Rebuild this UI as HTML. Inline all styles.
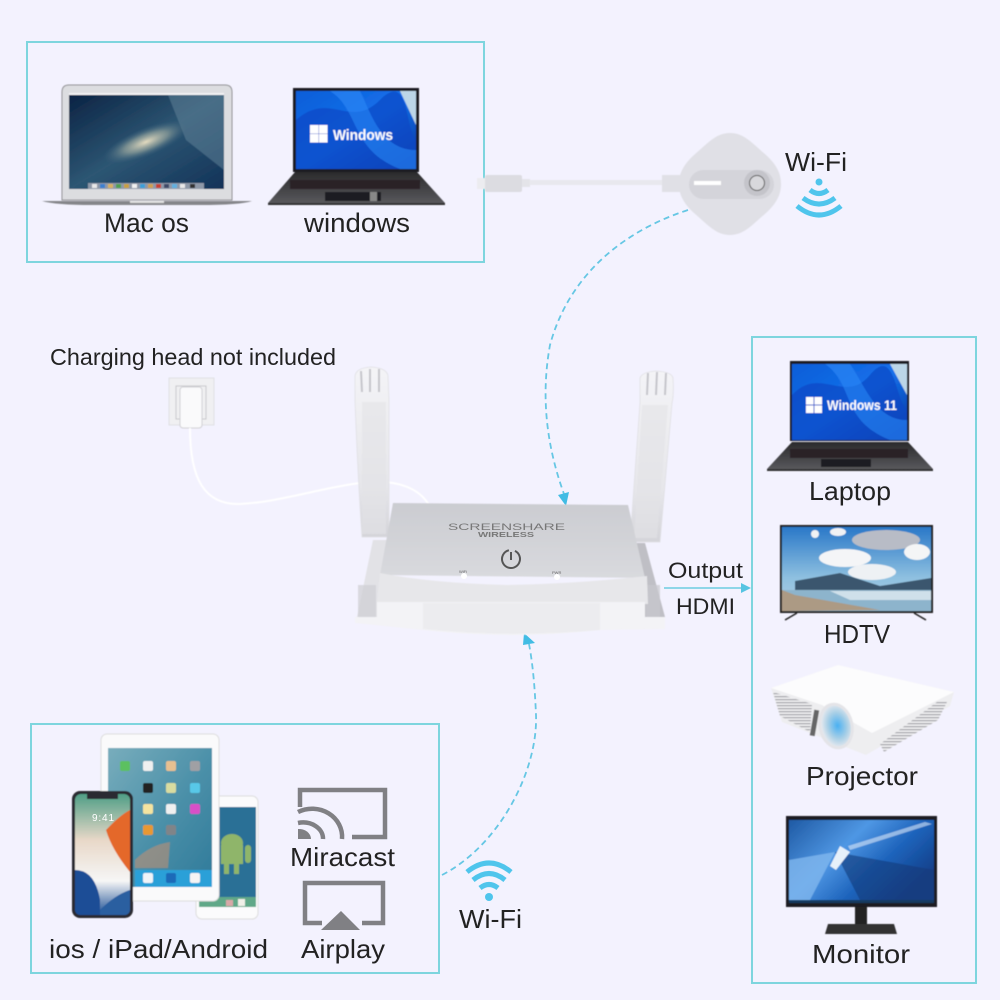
<!DOCTYPE html>
<html><head><meta charset="utf-8"><style>html,body{margin:0;padding:0;background:#f3f2fe}svg{display:block}text{font-family:"Liberation Sans",sans-serif;fill:#222}</style></head>
<body>
<svg width="1000" height="1000" viewBox="0 0 1000 1000" xmlns="http://www.w3.org/2000/svg">
<defs>
<linearGradient id="mac" x1="0" y1="0" x2="1" y2="1"><stop offset="0" stop-color="#0b2344"/><stop offset=".5" stop-color="#2d5673"/><stop offset="1" stop-color="#123258"/></linearGradient>
<radialGradient id="gal" cx=".5" cy=".5" r=".5"><stop offset="0" stop-color="#e5dcc0"/><stop offset=".5" stop-color="#8f9f9a" stop-opacity=".75"/><stop offset="1" stop-color="#3d6480" stop-opacity="0"/></radialGradient>
<linearGradient id="win" x1="0" y1="0" x2="1" y2="1"><stop offset="0" stop-color="#0d5ed8"/><stop offset=".5" stop-color="#1470ea"/><stop offset="1" stop-color="#07329a"/></linearGradient>
<linearGradient id="base" x1="0" y1="0" x2="0" y2="1"><stop offset="0" stop-color="#2a2a2c"/><stop offset="1" stop-color="#58585c"/></linearGradient>
<linearGradient id="sky" x1="0" y1="0" x2="0" y2="1"><stop offset="0" stop-color="#2a78c8"/><stop offset=".6" stop-color="#8ec0e0"/><stop offset="1" stop-color="#b4d0e4"/></linearGradient>
<linearGradient id="mon" x1="0" y1="0" x2="1" y2=".6"><stop offset="0" stop-color="#1f5aa4"/><stop offset=".42" stop-color="#4f97e4"/><stop offset=".7" stop-color="#1e64bc"/><stop offset="1" stop-color="#12408a"/></linearGradient>
<linearGradient id="top" x1="0" y1="0" x2="0" y2="1"><stop offset="0" stop-color="#cbccd1"/><stop offset="1" stop-color="#d9dade"/></linearGradient>
<linearGradient id="ant" x1="0" y1="0" x2="0" y2="1"><stop offset="0" stop-color="#f4f4f7"/><stop offset=".7" stop-color="#e6e6ea"/><stop offset="1" stop-color="#d4d4d9"/></linearGradient>
<linearGradient id="ipad" x1="0" y1="0" x2="1" y2="1"><stop offset="0" stop-color="#78adbc"/><stop offset=".55" stop-color="#4a8fa8"/><stop offset="1" stop-color="#2f7a9a"/></linearGradient>
<linearGradient id="iph" x1="0" y1="0" x2="0" y2="1"><stop offset="0" stop-color="#4f9e86"/><stop offset=".38" stop-color="#e8d8c8"/><stop offset=".72" stop-color="#f6f6f6"/><stop offset="1" stop-color="#1c4f94"/></linearGradient>
<radialGradient id="lens" cx=".55" cy=".5" r=".5"><stop offset="0" stop-color="#4ab0f2"/><stop offset=".6" stop-color="#a8cfe6"/><stop offset="1" stop-color="#e4e8ee"/></radialGradient>
<pattern id="vent" width="4" height="3" patternUnits="userSpaceOnUse"><rect width="4" height="3" fill="#f0f0f2"/><rect width="4" height="1.300" fill="#a6a6ab"/></pattern>
<filter id="b"><feGaussianBlur stdDeviation=".4"/></filter>
</defs>
<rect width="1000" height="1000" fill="#f3f2fe"/>

<g fill="none" stroke="#7dd5de" stroke-width="2">
<rect x="27" y="42" width="457" height="220"/>
<rect x="752" y="337" width="224" height="646"/>
<rect x="31" y="724" width="408" height="249"/>
</g>

<!-- Mac laptop -->
<g filter="url(#b)">
<path d="M62 92q0-7 7-7h156q7 0 7 7v108H62z" fill="#dcdde0" stroke="#8f8f92"/>
<rect x="69" y="95" width="155" height="94" fill="url(#mac)"/>
<polygon points="168,95 224,95 224,170 186,140" fill="#5f8298" opacity=".55"/>
<ellipse cx="146" cy="142" rx="46" ry="14" transform="rotate(-22 146 142)" fill="url(#gal)"/>
<g>
<rect x="88" y="183" width="116" height="6" fill="#8e98a8"/>
<rect x="92" y="184" width="5" height="4" fill="#e8e8e8"/><rect x="100" y="184" width="5" height="4" fill="#3a80d0"/><rect x="108" y="184" width="5" height="4" fill="#d8b060"/><rect x="116" y="184" width="5" height="4" fill="#50a050"/><rect x="124" y="184" width="5" height="4" fill="#c8a040"/><rect x="132" y="184" width="5" height="4" fill="#f0f0f0"/><rect x="140" y="184" width="5" height="4" fill="#3aa0d8"/><rect x="148" y="184" width="5" height="4" fill="#d0a050"/><rect x="156" y="184" width="5" height="4" fill="#c84030"/><rect x="164" y="184" width="5" height="4" fill="#404868"/><rect x="172" y="184" width="5" height="4" fill="#60b0e0"/><rect x="180" y="184" width="5" height="4" fill="#e8e8e8"/><rect x="190" y="184" width="5" height="4" fill="#303030"/>
</g>
<rect x="69" y="93" width="155" height="2" fill="#f2f2f4"/>
<path d="M42 201H252Q240 205 200 205H92Q56 205 42 201z" fill="#85868a"/>
<rect x="130" y="201" width="34" height="2" fill="#ddd"/>
</g>

<!-- Windows laptop -->
<g filter="url(#b)">
<rect x="293" y="88" width="126" height="84" fill="#1c1c20"/>
<rect x="296" y="91" width="120" height="78" fill="url(#win)"/>
<path d="M296 120C330 90 350 130 380 100S405 130 416 140V169H296z" fill="#0a47c4" opacity=".7"/>
<path d="M330 91C360 110 350 150 400 169H416V150C380 150 370 110 360 91z" fill="#2f8dfa" opacity=".55"/>
<polygon points="400,91 416,91 416,125" fill="#bcd6e8"/>
<g fill="#fff"><rect x="310" y="125" width="8.500" height="8.500"/><rect x="319" y="125" width="8.500" height="8.500"/><rect x="310" y="134" width="8.500" height="8.500"/><rect x="319" y="134" width="8.500" height="8.500"/></g>
<text x="333" y="140" font-size="15" font-weight="bold" style="fill:#fff" textLength="60" lengthAdjust="spacingAndGlyphs">Windows</text>
<polygon points="295,172 417,172 445,203 268,203" fill="url(#base)"/>
<rect x="268" y="203" width="177" height="2" fill="#333"/>
<rect x="290" y="180" width="130" height="9" fill="#2b2426"/>
<rect x="325" y="192" width="56" height="9" fill="#1f1f22"/>
<rect x="370" y="192" width="7" height="9" fill="#888"/>
</g>

<text x="104" y="232" font-size="27" textLength="85" lengthAdjust="spacingAndGlyphs">Mac os</text>
<text x="304" y="232" font-size="27" textLength="106" lengthAdjust="spacingAndGlyphs">windows</text>

<!-- dongle -->
<g filter="url(#b)">
<rect x="530" y="180" width="132" height="5" fill="#e8e8ee"/>
<rect x="477" y="178" width="8" height="11" fill="#ececf0"/>
<rect x="485" y="175" width="37" height="17" rx="2" fill="#dcdce1"/>
<rect x="522" y="179" width="8" height="8" fill="#e4e4e9"/>
<rect x="662" y="175" width="20" height="17" fill="#e0e0e6"/>
<path d="M730 133C744 133 752 143 766 155C778 166 781 175 781 184C781 193 778 202 766 213C752 225 744 235 730 235C716 235 708 225 694 213C682 202 679 193 679 184C679 175 682 166 694 155C708 143 716 133 730 133z" fill="#e0e0e6"/>
<rect x="689" y="170" width="85" height="29" rx="14.500" fill="#d4d4da"/>
<rect x="694" y="181" width="27" height="4" fill="#fff"/>
<circle cx="757" cy="183" r="13" fill="#c4c4ca"/><circle cx="757" cy="183" r="7.500" fill="#d8d8dc" stroke="#555" stroke-width="1"/>
</g>
<text x="785" y="171" font-size="26" textLength="62" lengthAdjust="spacingAndGlyphs">Wi-Fi</text>
<g fill="none" stroke="#4fc5ec" stroke-width="5">
<circle cx="819" cy="182" r="3.500" fill="#4fc5ec" stroke="none"/>
<path d="M810 190Q819 197 828 190"/>
<path d="M803 198Q819 210 835 198"/>
<path d="M797 206Q819 224 841 206"/>
</g>

<!-- dashed connectors -->
<g fill="none" stroke="#66c7e4" stroke-width="1.800" stroke-dasharray="6 4">
<path d="M688 210C620 232 568 278 550 345C540 400 548 450 564 494"/>
<path d="M442 875C500 845 538 770 536 715C535 690 533 665 529 644"/>
</g>
<polygon points="566,506 558,495 569,492" fill="#41bce4"/>
<polygon points="524,633 523,645 535,643" fill="#41bce4"/>

<!-- charger -->
<text x="50" y="365" font-size="23" textLength="286" lengthAdjust="spacingAndGlyphs">Charging head not included</text>
<g filter="url(#b)">
<rect x="169" y="378" width="45" height="47" fill="#f0f0f2" stroke="#e0e0e4"/>
<rect x="176" y="386" width="30" height="33" fill="none" stroke="#c8c8cc"/>
<rect x="180" y="387" width="22" height="41" rx="3" fill="#fafafb" stroke="#d0d0d4"/>
<path d="M190 428C190 480 205 505 240 504C280 502 320 488 360 483C400 478 420 490 429 505" fill="none" stroke="#fff" stroke-width="2"/>
</g>

<!-- router -->
<g filter="url(#b)">
<path d="M355 376Q356 368 371 367Q387 368 388 376L389 400V537H362Q358 480 355 400z" fill="url(#ant)" stroke="#e0e0e4" stroke-width=".8"/>
<path d="M640 378Q642 372 656 371Q672 372 673 378Q674 395 672 403L660 542H630L640 403z" fill="url(#ant)" stroke="#e0e0e4" stroke-width=".8"/>
<rect x="362" y="402" width="24" height="132" fill="#e2e2e6" opacity=".6"/>
<polygon points="642,405 668,405 657,538 634,538" fill="#e2e2e6" opacity=".6"/>
<g stroke="#c5c5cb" stroke-width="2">
<line x1="361" y1="371" x2="362" y2="392"/><line x1="370" y1="369" x2="370" y2="392"/><line x1="379" y1="369" x2="379" y2="392"/>
<line x1="648" y1="373" x2="647" y2="395"/><line x1="657" y1="372" x2="656" y2="395"/><line x1="666" y1="373" x2="665" y2="395"/>
</g>
<polygon points="373,540 393,540 378,617 357,617" fill="#e2e2e6"/>
<polygon points="630,543 645,543 665,617 645,617" fill="#bfbfc5"/>
<rect x="358" y="585" width="18" height="32" fill="#cfcfd3" opacity=".7"/>
<rect x="646" y="585" width="14" height="32" fill="#c8c8cd" opacity=".7"/>
<polygon points="393,503 628,505 645,578 380,575" fill="url(#top)"/>
<path d="M380 573Q430 583 507 585Q573 584 647 576L648 604H377z" fill="#e7e7ea"/>
<path d="M355 617H377V602H645V617H665V629L600 630Q510 640 423 630L355 623z" fill="#f3f3f6"/>
<path d="M423 603H600V630Q510 638 423 629z" fill="#ececef"/>
</g>
<text x="448" y="530" font-size="9" style="fill:#777" textLength="117" lengthAdjust="spacingAndGlyphs">SCREENSHARE</text>
<text x="478" y="537" font-size="7" font-weight="bold" style="fill:#777" textLength="56" lengthAdjust="spacingAndGlyphs">WIRELESS</text>
<circle cx="511" cy="559" r="9" fill="none" stroke="#555" stroke-width="2" stroke-dasharray="50 8" transform="rotate(-64 511 559)"/>
<line x1="511" y1="552" x2="511" y2="560" stroke="#555" stroke-width="2"/>
<circle cx="464" cy="576" r="3" fill="#fff"/><circle cx="557" cy="577" r="3" fill="#fff"/>
<text x="459" y="573" font-size="4" style="fill:#666">WiFi</text><text x="552" y="574" font-size="4" style="fill:#666">PWR</text>

<!-- output -->
<text x="668" y="578" font-size="22" textLength="75" lengthAdjust="spacingAndGlyphs">Output</text>
<text x="676" y="614" font-size="22" textLength="59" lengthAdjust="spacingAndGlyphs">HDMI</text>
<line x1="664" y1="588" x2="742" y2="588" stroke="#6ccde0" stroke-width="1.500"/>
<polygon points="751,588 741,583 741,593" fill="#56c4e2"/>

<!-- right laptop -->
<g filter="url(#b)">
<rect x="790" y="361" width="119" height="80" fill="#1c1c20"/>
<rect x="792" y="364" width="115" height="76" fill="url(#win)"/>
<path d="M792 395C820 365 845 405 870 375S895 400 907 410V440H792z" fill="#0a47c4" opacity=".7"/>
<path d="M825 364C855 385 840 420 890 440H907V420C875 420 865 385 850 364z" fill="#2f8dfa" opacity=".55"/>
<polygon points="890,364 907,364 907,395" fill="#bcd6e8"/>
<g fill="#fff"><rect x="806" y="397" width="7.500" height="7.500"/><rect x="814.500" y="397" width="7.500" height="7.500"/><rect x="806" y="405.500" width="7.500" height="7.500"/><rect x="814.500" y="405.500" width="7.500" height="7.500"/></g>
<text x="827" y="410" font-size="14" font-weight="bold" style="fill:#fff" textLength="70" lengthAdjust="spacingAndGlyphs">Windows 11</text>
<polygon points="792,442 908,442 933,469 767,469" fill="url(#base)"/>
<rect x="767" y="469" width="166" height="2" fill="#333"/>
<rect x="790" y="449" width="118" height="9" fill="#2b2426"/>
<rect x="821" y="459" width="50" height="8" fill="#1f1f22"/>
</g>
<text x="809" y="500" font-size="26" textLength="82" lengthAdjust="spacingAndGlyphs">Laptop</text>

<!-- HDTV -->
<g filter="url(#b)">
<rect x="780" y="525" width="153" height="88" fill="#222"/>
<rect x="782" y="527" width="149" height="84" fill="url(#sky)"/>
<ellipse cx="886" cy="540" rx="34" ry="10" fill="#b8bcc6"/>
<ellipse cx="845" cy="558" rx="26" ry="9" fill="#f4f5f7"/>
<ellipse cx="872" cy="572" rx="24" ry="8" fill="#eef1f4"/>
<ellipse cx="917" cy="552" rx="13" ry="8" fill="#f4f5f6"/>
<ellipse cx="838" cy="532" rx="8" ry="4" fill="#f0f2f4"/>
<ellipse cx="815" cy="534" rx="4" ry="4" fill="#f0f2f4"/>
<polygon points="795,581 840,573 880,586 931,578 931,592 795,592" fill="#3b566e"/>
<rect x="782" y="590" width="149" height="21" fill="#8db4cc"/>
<path d="M830 591H931V600H850z" fill="#cfe0ea"/>
<polygon points="782,590 795,595 880,610 782,611" fill="#ac9a84"/>
<path d="M785 620L797 613M926 620L914 613" stroke="#222" stroke-width="1.500"/>
</g>
<text x="824" y="643" font-size="26" textLength="66" lengthAdjust="spacingAndGlyphs">HDTV</text>

<!-- Projector -->
<g filter="url(#b)">
<polygon points="771,688 838,665 954,692 950,706 866,755 782,722" fill="#eeeef0"/>
<polygon points="771,688 838,665 954,692 872,733 822,705" fill="#fcfcfd"/>
<polygon points="773,692 812,704 810,732 780,716" fill="url(#vent)"/>
<polygon points="880,744 937,702 947,702 938,720 884,752" fill="url(#vent)"/>
<ellipse cx="836" cy="726" rx="16" ry="22" transform="rotate(-12 836 726)" fill="url(#lens)" stroke="#e4e4e8" stroke-width="3"/>
<rect x="812" y="710" width="5" height="26" fill="#666" transform="rotate(10 815 723)"/>
</g>
<text x="806" y="785" font-size="26" textLength="112" lengthAdjust="spacingAndGlyphs">Projector</text>

<!-- Monitor -->
<g filter="url(#b)">
<rect x="786" y="816" width="151" height="91" fill="#1f1f22"/>
<rect x="789" y="820" width="145" height="83" fill="url(#mon)"/>
<polygon points="789,860 835,852 810,900 789,900" fill="#7fb6ee" opacity=".8"/>
<polygon points="835,852 934,870 934,900 860,900" fill="#123a7a" opacity=".6"/>
<polygon points="830,866 840,846 850,852 836,870" fill="#e6f0fa"/>
<polygon points="848,846 925,822 932,824 850,850" fill="#dbe8f8" opacity=".6"/>
<rect x="789" y="900" width="145" height="3" fill="#183a60"/>
<rect x="855" y="907" width="12" height="18" fill="#222"/>
<polygon points="828,924 894,924 897,934 825,934" fill="#333"/>
</g>
<text x="812" y="963" font-size="26" textLength="98" lengthAdjust="spacingAndGlyphs">Monitor</text>

<!-- Devices -->
<g filter="url(#b)">
<rect x="196" y="796" width="62" height="123" rx="6" fill="#fbfbfc" stroke="#ddd"/>
<rect x="199" y="807" width="57" height="100" fill="#2a6f96"/>
<ellipse cx="232" cy="843" rx="11" ry="9" fill="#8fb56a"/>
<rect x="221" y="845" width="22" height="19" fill="#8fb56a"/>
<rect x="245" y="845" width="6" height="18" rx="3" fill="#8fb56a"/>
<rect x="224" y="864" width="5" height="10" fill="#8fb56a"/><rect x="234" y="864" width="5" height="10" fill="#8fb56a"/>
<rect x="199" y="897" width="57" height="10" fill="#60a888"/>
<rect x="226" y="900" width="7" height="6" fill="#d8a8a8"/><rect x="238" y="899" width="7" height="7" fill="#f0f0e8"/>
<rect x="101" y="734" width="118" height="167" rx="6" fill="#fafafb" stroke="#ddd"/>
<rect x="108" y="748" width="104" height="139" fill="url(#ipad)"/>
<rect x="135" y="870" width="77" height="17" fill="#2ca0d8"/>
<rect x="120" y="761" width="10" height="10" rx="2" fill="#5cc060"/><rect x="143" y="761" width="10" height="10" rx="2" fill="#f0f0f0"/><rect x="166" y="761" width="10" height="10" rx="2" fill="#e8c090"/><rect x="190" y="761" width="10" height="10" rx="2" fill="#a0a0a4"/>
<rect x="143" y="783" width="10" height="10" rx="2" fill="#222"/><rect x="166" y="783" width="10" height="10" rx="2" fill="#d8dca0"/><rect x="190" y="783" width="10" height="10" rx="2" fill="#58c8e8"/>
<rect x="143" y="804" width="10" height="10" rx="2" fill="#f4e4a0"/><rect x="166" y="804" width="10" height="10" rx="2" fill="#f0f0f0"/><rect x="190" y="804" width="10" height="10" rx="2" fill="#d850c8"/>
<rect x="143" y="825" width="10" height="10" rx="2" fill="#e89830"/><rect x="166" y="825" width="10" height="10" rx="2" fill="#808488"/>
<rect x="143" y="873" width="10" height="10" rx="2" fill="#f0f4f8"/><rect x="166" y="873" width="10" height="10" rx="2" fill="#1a6ab8"/><rect x="190" y="873" width="10" height="10" rx="2" fill="#f4f4f4"/>
<path d="M135 860Q150 845 170 842L168 868H135z" fill="#c89070" opacity=".55"/>
<rect x="72" y="791" width="61" height="127" rx="8" fill="#2c2c30"/>
<rect x="75" y="794" width="55" height="121" rx="6" fill="url(#iph)"/>
<path d="M106 830Q120 815 130 810V872Q112 850 106 830z" fill="#e4682a"/>
<path d="M75 870Q95 870 100 900L100 915H81Q75 915 75 909z" fill="#1b4e96"/>
<path d="M130 890Q115 895 100 910V915H124Q130 915 130 909z" fill="#2a5ea0"/>
<rect x="87" y="794" width="31" height="5" fill="#2c2c30"/>
</g>
<text x="92" y="821" font-size="10" style="fill:#fff" textLength="22">9:41</text>

<g fill="none" stroke="#808084" stroke-width="4.500">
<path d="M300 807V790H385V837H352"/>
<path d="M298 812A30 28 0 0 1 342 839"/>
<path d="M298 823A20 16 0 0 1 323 839"/>
</g>
<path d="M298 829A12 10 0 0 1 311 839H298z" fill="#808084"/>
<path d="M322 923H305V883H383V923H362" fill="none" stroke="#808084" stroke-width="4.500"/>
<polygon points="341,911 321,930 360,930" fill="#808084"/>

<text x="49" y="958" font-size="26" textLength="219" lengthAdjust="spacingAndGlyphs">ios / iPad/Android</text>
<text x="290" y="866" font-size="26" textLength="105" lengthAdjust="spacingAndGlyphs">Miracast</text>
<text x="301" y="958" font-size="26" textLength="84" lengthAdjust="spacingAndGlyphs">Airplay</text>

<g fill="none" stroke="#4fc5ec" stroke-width="5">
<circle cx="489" cy="897" r="4" fill="#4fc5ec" stroke="none"/>
<path d="M480 888Q489 881 498 888"/>
<path d="M473 880Q489 867 505 880"/>
<path d="M467 872Q489 854 511 872"/>
</g>
<text x="459" y="928" font-size="26" textLength="63" lengthAdjust="spacingAndGlyphs">Wi-Fi</text>
</svg>
</body></html>
